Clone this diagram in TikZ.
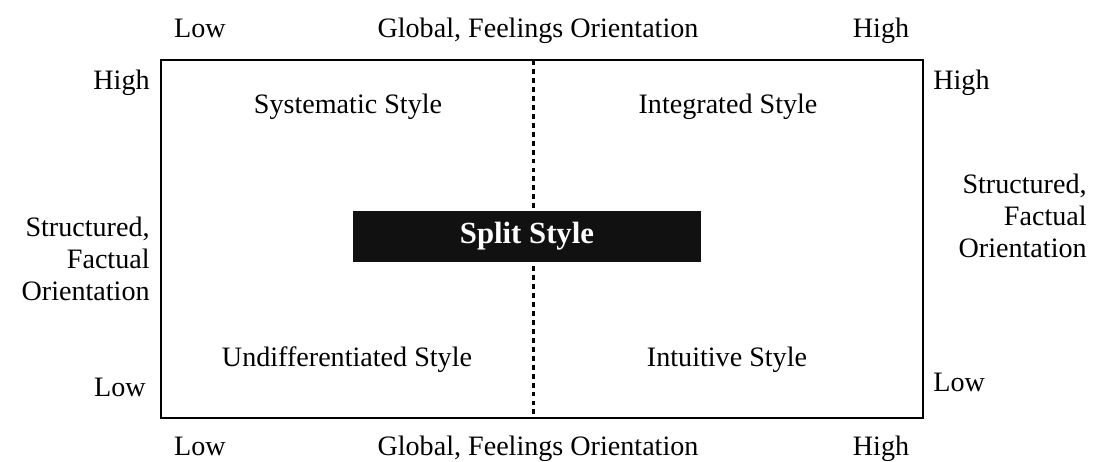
\documentclass[tikz,border=0pt]{standalone}
\usepackage{fontspec}
\setmainfont{Liberation Serif}
\usetikzlibrary{positioning}
\definecolor{SplitFill}{HTML}{111111}
\tikzset{every node/.style={font=\fontsize{16}{18.1}\selectfont,inner sep=0pt},
 frame/.style={draw,line width=1.1pt,minimum width=15.24cm,minimum height=7.16cm},
 divider/.style={line width=1.7pt,dash pattern=on 2.8pt off 2.3pt},
 splitbox/.style={fill=SplitFill,text=white,minimum width=6.96cm,minimum height=1.02cm,
 font=\fontsize{17.5}{20}\selectfont\bfseries},
 side/.style={align=right}}

\begin{document}
\begin{tikzpicture}[x=0.02cm,y=-0.02cm]
\useasboundingbox (0,0) rectangle (1095,461);
\node[frame] (grid) at (542,239) {};
\coordinate (dtop) at (533,60);
\coordinate (dbot) at (533,418);
\draw[divider] (dtop) -- (dbot);
\node[splitbox] (split) at (527,236.5) {Split Style};
% quadrants
\node[anchor=base] (sys) at (348,113) {Systematic Style};
\node[anchor=base] (int) at (728,113) {Integrated Style};
\node[anchor=base] (und) at (347,366) {Undifferentiated Style};
\node[anchor=base] (intu) at (727,366) {Intuitive Style};
% top and bottom axis
\node[anchor=base] (tlow) at (200,37) {Low};
\node[anchor=base] (ttitle) at (538,37) {Global, Feelings Orientation};
\node[anchor=base] (thigh) at (881,37) {High};
\node[anchor=base] (blow) at (200,455) {Low};
\node[anchor=base] (btitle) at (538,455) {Global, Feelings Orientation};
\node[anchor=base] (bhigh) at (881,455) {High};
% left and right axis
\node[anchor=base east] (lhigh) at (150,89) {High};
\node[side,anchor=east] (ltitle) at (150,259) {Structured,\\Factual\\Orientation};
\node[anchor=base east] (llow) at (146,396) {Low};
\node[anchor=base west] (rhigh) at (933,89) {High};
\node[side,anchor=east] (rtitle) at (1087,216) {Structured,\\Factual\\Orientation};
\node[anchor=base west] (rlow) at (933,391) {Low};
\end{tikzpicture}
\end{document}
